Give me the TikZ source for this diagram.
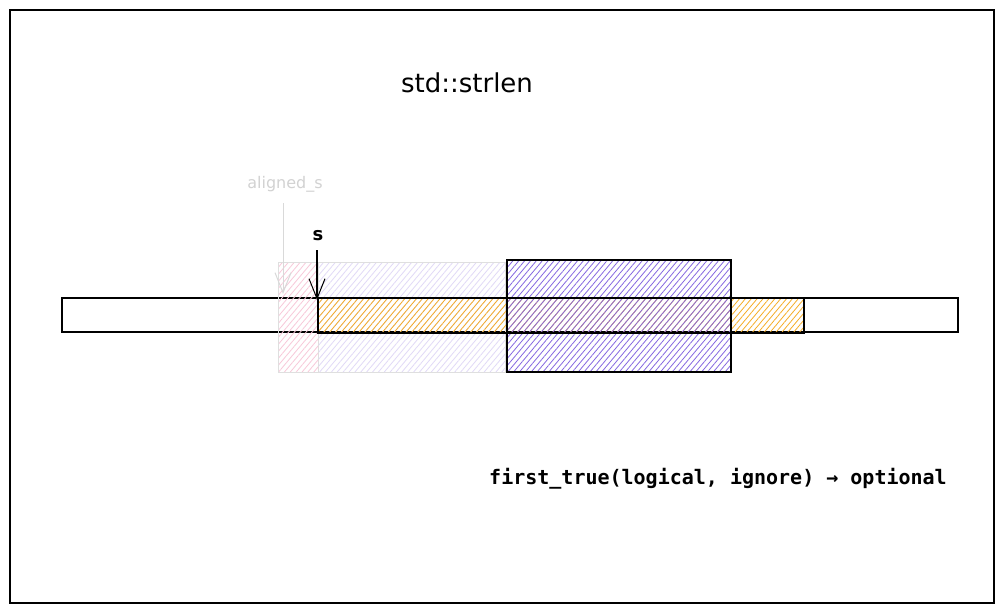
\documentclass[tikz,border=0pt]{standalone}
\usepackage{fontspec}
\setmainfont{DejaVu Sans}
\newfontfamily\monofont{DejaVu Sans Mono}
\usetikzlibrary{patterns.meta,arrows.meta}
\definecolor{vio}{HTML}{6741D9}
\definecolor{ora}{HTML}{F59F00}
\definecolor{pnk}{HTML}{E64980}
\tikzset{
  hatch/.style={pattern={Lines[angle=50,distance=4.5pt,line width=0.8pt]},pattern color=#1},
  outline/.style={draw=black,line width=1.2pt},
  lbl/.style={inner sep=0pt,anchor=center},
  barb/.style={-{Straight Barb[length=20pt,width=16pt,line width=1pt]}},
}
\begin{document}
\begin{tikzpicture}[x=1pt,y=-1pt]
\useasboundingbox (0,0) rectangle (1004,613);
\fill[white] (0,0) rectangle (1004,613);
\draw[line width=1.2pt] (10,10) rectangle (994,603);
\node[lbl,font=\fontsize{26}{30}\selectfont] (title) at (467,83) {std::strlen};
% long bar
\draw[line width=1.2pt] (62,298) rectangle (958,332);
% faint aligned region
\path[hatch=pnk!30,draw=gray!25,line width=1pt] (278,262) rectangle (318,372);
\path[hatch=vio!20,draw=gray!25,line width=1pt] (318,262) rectangle (505,372);
% orange
\path[hatch=ora!85,outline] (318,298) rectangle (804,333);
% purple
\path[hatch=vio!80,outline] (507,260) rectangle (731,372);
\draw[line width=1.2pt] (507,298) -- (731,298) (507,333) -- (731,333);
% labels
\node[lbl,text=gray!35,font=\fontsize{16}{19}\selectfont] (als) at (285,184) {aligned\_s};
\coordinate (alsA) at (283,203);
\coordinate (alsB) at (283,294);
\draw[gray!30,line width=1pt,barb] (alsA) -- (alsB);
\node[lbl,font=\bfseries\fontsize{18}{21}\selectfont] (s) at (318,236) {s};
\coordinate (sA) at (317,250);
\coordinate (sB) at (317,300);
\draw[line width=1.2pt,barb] (sA) -- (sB);
\node[lbl,font=\monofont\bfseries\fontsize{20}{23}\selectfont] (sig) at (718,479) {first\_true(logical, ignore) → optional};
\end{tikzpicture}
\end{document}
